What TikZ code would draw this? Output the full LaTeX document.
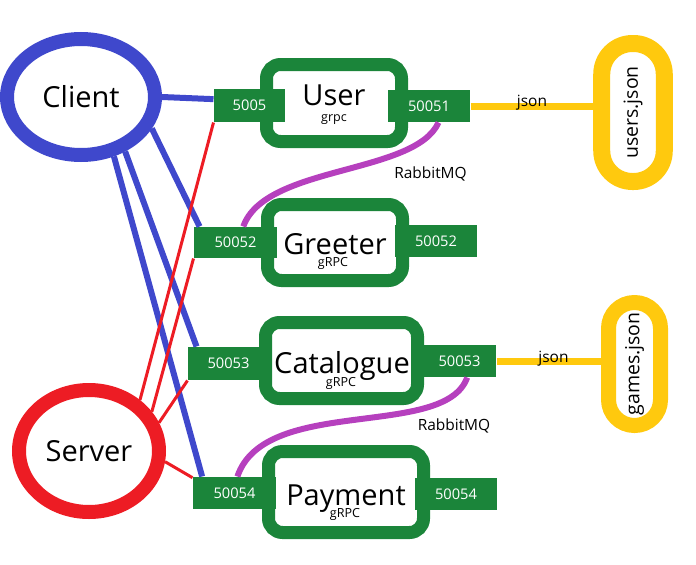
\documentclass[tikz,border=0pt]{standalone}
\usepackage{fontspec}
\setmainfont{Open Sans}
\usetikzlibrary{shapes.geometric}

\definecolor{clientblue}{RGB}{63,72,204}
\definecolor{serverred}{RGB}{237,28,36}
\definecolor{boxgreen}{RGB}{27,133,58}
\definecolor{jsonyellow}{RGB}{255,201,14}
\definecolor{mqpurple}{RGB}{182,64,190}

\tikzset{every picture/.style={line width=0.75pt}}
\tikzset{
  endpoint/.style={ellipse, fill=white, line width=10.5pt, inner sep=0pt, font=\fontsize{21.75}{24}\selectfont},
  svcbox/.style={draw=boxgreen, fill=white, line width=9.75pt, rounded corners=10.5pt, inner sep=0pt},
  svcname/.style={anchor=base, inner sep=0pt, font=\fontsize{21.75}{24}\selectfont},
  rpcname/.style={anchor=base, inner sep=0pt, font=\fontsize{9.4}{11}\selectfont},
  port/.style={fill=boxgreen, text=white, inner sep=0pt, font=\fontsize{11}{13}\selectfont},
  jsonfile/.style={draw=jsonyellow, fill=white, rotate=90, inner sep=0pt, font=\fontsize{14.6}{16}\selectfont},
  wirelabel/.style={anchor=base, inner sep=0pt, font=\fontsize{11.6}{13}\selectfont},
  clientwire/.style={draw=clientblue, line width=4.5pt},
  serverwire/.style={draw=serverred, line width=2.25pt},
  mqwire/.style={draw=mqpurple, line width=4.5pt},
  jsonwire/.style={draw=jsonyellow, line width=5.25pt}
}

\begin{document}
\begin{tikzpicture}[x=0.75pt,y=0.75pt,yscale=-1,xscale=1]
\path[use as bounding box] (0,0) rectangle (696,564);

%Shape: Ellipse
\node[endpoint, draw=clientblue, minimum width=111pt, minimum height=87pt] (client) at (81,97) {Client};
%Shape: Ellipse
\node[endpoint, draw=serverred, minimum width=105pt, minimum height=91.5pt] (server) at (89,451) {Server};

%Shape: Rounded Rect
\node[svcbox, minimum width=101.25pt, minimum height=57.75pt] (user) at (334,103) {};
\node[svcbox, minimum width=101.25pt, minimum height=57pt] (greeter) at (335,242.5) {};
\node[svcbox, minimum width=114pt, minimum height=57pt] (catalogue) at (341.5,360.5) {};
\node[svcbox, minimum width=116.25pt, minimum height=60.75pt] (payment) at (346,492) {};

% Text Node
\node[svcname] (user-t) at (334,105) {User};
\node[rpcname] (user-r) at (334,121) {grpc};
\node[svcname] (greeter-t) at (335,254) {Greeter};
\node[rpcname] (greeter-r) at (333,266) {gRPC};
\node[svcname] (catalogue-t) at (342,373) {Catalogue};
\node[rpcname] (catalogue-r) at (341,386) {gRPC};
\node[svcname] (payment-t) at (346,505) {Payment};
\node[rpcname] (payment-r) at (345,517) {gRPC};

%Shape: Rectangle (ports)
\node[port, minimum width=53.25pt, minimum height=24.75pt] (u-in) at (249.5,105.5) {5005};
\node[port, minimum width=61.5pt, minimum height=24pt] (u-out) at (429,106) {50051};
\node[port, minimum width=62.25pt, minimum height=23.25pt] (g-in) at (235.5,242.5) {50052};
\node[port, minimum width=61.5pt, minimum height=24pt] (g-out) at (436,241) {50052};
\node[port, minimum width=60.75pt, minimum height=24.75pt] (c-in) at (228.5,363.5) {50053};
\node[port, minimum width=54.75pt, minimum height=24pt] (c-out) at (459.5,361) {50053};
\node[port, minimum width=62.25pt, minimum height=24pt] (p-in) at (234.5,493) {50054};
\node[port, minimum width=61.5pt, minimum height=24pt] (p-out) at (456,494) {50054};

%Shape: Stadium
\node[jsonfile, line width=12.75pt, rounded corners=23pt, minimum width=103.5pt, minimum height=46.9pt] (users) at (633,112.5) {users.json};
\node[jsonfile, line width=11.25pt, rounded corners=19.4pt, minimum width=92.25pt, minimum height=39pt] (games) at (634.5,364) {games.json};

%Straight Lines
\draw[clientwire] (client.east) -- (u-in.170);
\draw[clientwire] (client.-24) -- (g-in.156);
\draw[clientwire] (client.-51) -- (c-in.152);
\draw[clientwire] (client.-61) -- (p-in.153);
%Straight Lines
\draw[serverwire] (server.45) -- (u-in.south west);
\draw[serverwire] (server.32) -- (g-in.south west);
\draw[serverwire] (server.22) -- (c-in.south west);
\draw[serverwire] (server.-8) -- (p-in.160);
%Straight Lines
\draw[jsonwire] (u-out.east) -- (u-out.east -| users.north);
\draw[jsonwire] (c-out.east) -- (c-out.east -| games.north);
%Curve Lines
\draw[mqwire] (u-out.-60) .. controls (415,175) and (265,165) .. (g-in.64);
\draw[mqwire] (c-out.-65) .. controls (445,440) and (265,395) .. (p-in.80);

% Text Node
\node[wirelabel] (json-a) at (532,106) {json};
\node[wirelabel] (json-b) at (553.5,362) {json};
\node[wirelabel] (mq-a) at (430.5,178) {RabbitMQ};
\node[wirelabel] (mq-b) at (454,430) {RabbitMQ};

\end{tikzpicture}
\end{document}
